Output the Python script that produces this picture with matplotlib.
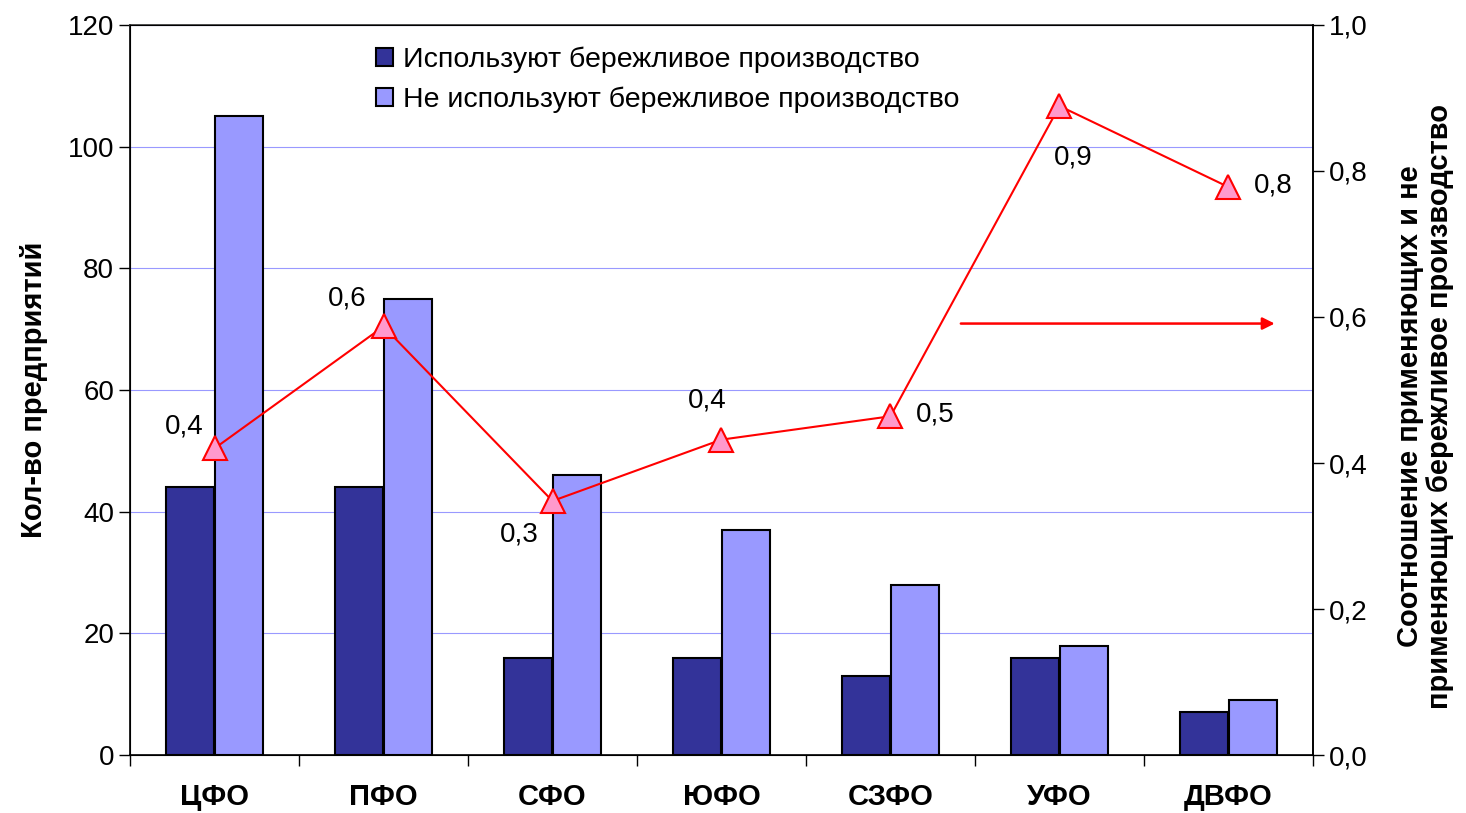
import matplotlib
matplotlib.use("Agg")
import matplotlib.pyplot as plt
import numpy as np

plt.rcParams['font.family'] = ['Liberation Sans', 'DejaVu Sans']

# data
regions = ["ЦФО", "ПФО", "СФО", "ЮФО", "СЗФО", "УФО", "ДВФО"]
useLean = [44, 44, 16, 16, 13, 16, 7]
notUseLean = [105, 75, 46, 37, 28, 18, 9]
ratio = [0.42, 0.587, 0.348, 0.432, 0.464, 0.889, 0.778]
ratioLabels = ["0,4", "0,6", "0,3", "0,4", "0,5", "0,9", "0,8"]
# offsets of the ratio labels (points)
labelOffsets = [(-22, 16), (-26, 20), (-24, -24), (-10, 28), (32, 1), (10, -37), (32, 1)]

darkColor = "#333399"
lightColor = "#9999FF"

fig = plt.figure(figsize=(14.66, 8.13), dpi=100)
ax = fig.add_axes([0.0887, 0.0713, 0.8069, 0.898])

x = np.arange(len(regions))
w = 0.285
ax.bar(x - w / 2 - 0.003, useLean, w, color=darkColor, edgecolor="black", linewidth=1.5,
       label="Используют бережливое производство", zorder=3)
ax.bar(x + w / 2 + 0.003, notUseLean, w, color=lightColor, edgecolor="black", linewidth=1.5,
       label="Не используют бережливое производство", zorder=3)

ax.set_xlim(-0.5, len(regions) - 0.5)
ax.set_ylim(0, 120)
ax.set_yticks(range(0, 121, 20))
ax.tick_params(axis="y", labelsize=20, direction="out", length=8, width=1)
ax.set_xticks(np.arange(-0.5, len(regions), 1))
ax.set_xticklabels([])
ax.set_xticks(x, minor=True)
ax.set_xticklabels(regions, minor=True, fontsize=21, fontweight="bold")
ax.tick_params(axis="x", which="major", direction="out", length=8, width=1)
ax.tick_params(axis="x", which="minor", length=0, pad=20)
ax.grid(axis="y", color="#9999FF", linewidth=0.8, zorder=0)
ax.set_axisbelow(True)
for side in ["left", "bottom", "top", "right"]:
    ax.spines[side].set_linewidth(1.2)
ax.spines["top"].set_color("#333333")
ax.set_ylabel("Кол-во предприятий", fontsize=21, fontweight="bold", labelpad=14)

leg = ax.legend(loc="upper left", bbox_to_anchor=(0.186, 1.005), frameon=False, fontsize=20.5,
                handlelength=0.6, handleheight=0.6, handletextpad=0.35, labelspacing=0.45)

ax2 = ax.twinx()
ax2.set_ylim(0, 1.0)
ax2.set_yticks(np.arange(0, 1.01, 0.2))
ax2.set_yticklabels(["0,0", "0,2", "0,4", "0,6", "0,8", "1,0"])
ax2.tick_params(axis="y", labelsize=20, direction="out", length=8, width=1)
ax2.spines["right"].set_linewidth(1.2)
ax2.plot(x, ratio, color="red", linewidth=1.5, marker="^", markersize=17,
         markerfacecolor="#FF99CC", markeredgecolor="red", markeredgewidth=1.5, zorder=5)
for i in range(len(regions)):
    ax2.annotate(ratioLabels[i], (x[i], ratio[i]), xytext=labelOffsets[i], textcoords="offset points",
                 ha="center", va="center", fontsize=20)

# arrow pointing to the right axis
ax2.annotate("", xy=(6.29, 0.591), xytext=(4.4, 0.591),
             arrowprops=dict(arrowstyle="-|>", color="red", lw=1.8, mutation_scale=18))

fig.text(0.972, 0.5, "Соотношение применяющих и не\nприменяющих бережливое производство",
         rotation=90, ha="center", va="center", fontsize=21, fontweight="bold", linespacing=1.05)

fig.savefig("out.png", dpi=100)
